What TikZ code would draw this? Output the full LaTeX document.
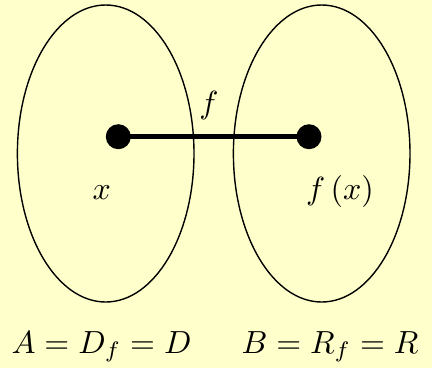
\documentclass[tikz,border=0pt]{standalone}
\usetikzlibrary{shapes.geometric}
\definecolor{bgyellow}{HTML}{FFFFCC}
\tikzset{
  setshape/.style={draw=black, line width=1.4pt, ellipse, minimum width=176.6pt, minimum height=297pt, inner sep=0pt},
  dotpt/.style={circle, fill=black, minimum size=25pt, inner sep=0pt},
  maplink/.style={line width=5pt},
  lbl/.style={inner sep=0pt}
}
\newcommand{\lblmath}[1]{\scalebox{3.2}{$#1$}}
\begin{document}
\begin{tikzpicture}[x=1pt,y=-1pt]
\fill[bgyellow] (0,0) rectangle (432,368);
\useasboundingbox (0,0) rectangle (432,368);
\node[setshape] (A) at (105.7,153.5) {};
\node[setshape] (B) at (321.7,153.5) {};
\node[dotpt] (p) at (118.3,136.7) {};
\node[dotpt] (q) at (309,136.7) {};
\draw[maplink] (p.center) -- (q.center);
\node[lbl] (fl) at (209,105) {\lblmath{f}};
\node[lbl, anchor=base] (xl) at (101.7,199) {\lblmath{x}};
\node[lbl, anchor=base] (fxl) at (340,199) {\lblmath{f\,(x)}};
\node[lbl, anchor=base] (Al) at (101.5,353) {\lblmath{A = D_f = D}};
\node[lbl, anchor=base] (Bl) at (330,353) {\lblmath{B = R_f = R}};
\end{tikzpicture}
\end{document}
